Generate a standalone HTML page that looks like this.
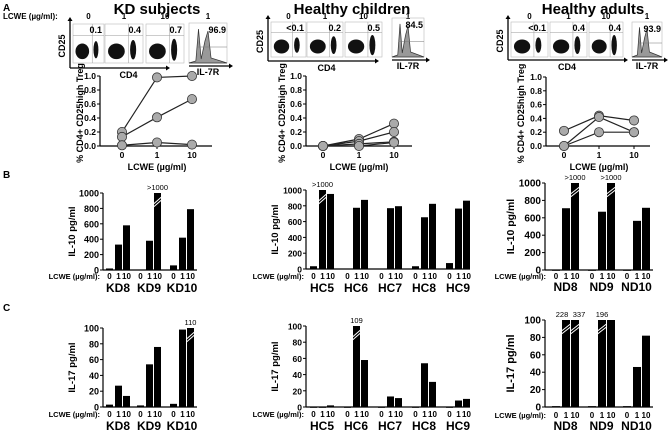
<!DOCTYPE html>
<html><head><meta charset="utf-8">
<style>
html,body{margin:0;padding:0;background:#fff;}
svg{display:block;font-family:"Liberation Sans",Arial,sans-serif;}
</style></head>
<body>
<svg id="fig" width="669" height="433" viewBox="0 0 669 433" xmlns="http://www.w3.org/2000/svg"></svg>
<script>
// ---- Panel A line-plot data (% CD4+ CD25high Treg) ----
const doseLabels = ['0','1','10'];
const treg_kd = [[0.20,0.98,1.00],[0.13,0.41,0.67],[0.01,0.05,0.02]];
const treg_hc = [[0,0.10,0.32],[0,0.07,0.20],[0,0.03,0.06],[0,0.00,0.05]];
const treg_nd = [[0.22,0.44,0.37],[0,0.42,0.20],[0,0.20,0.20]];
const tregTicks = [0,0.2,0.4,0.6,0.8,1.0];
// flow percentages
const flow_kd = ['0.1','0.4','0.7','96.9'];
const flow_hc = ['<0.1','0.2','0.5','84.5'];
const flow_nd = ['<0.1','0.4','0.4','93.9'];
// ---- Panel B IL-10 ----
const names_kd = ['KD8','KD9','KD10'];
const names_hc = ['HC5','HC6','HC7','HC8','HC9'];
const names_nd = ['ND8','ND9','ND10'];
const il10_kd = [[20,330,580],[5,380,1001],[60,420,790]];
const il10_kd_over = [['','',''],['','','>1000'],['','','']];
const il10_hc = [[35,1001,950],[5,775,875],[5,770,795],[35,655,825],[75,765,865]];
const il10_hc_over = [['','>1000',''],['','',''],['','',''],['','',''],['','','']];
const il10_nd = [[0,710,1001],[0,670,1001],[0,565,715]];
const il10_nd_over = [['','','>1000'],['','','>1000'],['','','']];
const il10Ticks = [0,200,400,600,800,1000];
// ---- Panel C IL-17 ----
const il17_kd = [[3,27,14],[2,54,76],[4,98,110]];
const il17_kd_over = [['','',''],['','',''],['','','110']];
const il17_hc = [[0,0,2],[0,109,58],[0,13,11],[0,54,31],[0,8,10]];
const il17_hc_over = [['','',''],['','109',''],['','',''],['','',''],['','','']];
const il17_nd = [[1,228,337],[1,196,100],[1,46,82]];
const il17_nd_over = [['','228','337'],['','196',''],['','','']];
const il17Ticks = [0,20,40,60,80,100];

const svg = document.getElementById('fig');
const NS = 'http://www.w3.org/2000/svg';
function el(tag, attrs, parent){
  const e = document.createElementNS(NS, tag);
  for (const k in attrs) e.setAttribute(k, attrs[k]);
  (parent||svg).appendChild(e);
  return e;
}
function txt(s, x, y, size, opts, parent){
  opts = opts||{};
  const t = el('text', {x:x, y:y, 'font-size':size, 'font-weight':opts.w||'bold', 'text-anchor':opts.a||'middle', fill:'#000'}, parent);
  if (opts.rot) t.setAttribute('transform', 'rotate(-90 '+x+' '+y+')');
  t.textContent = s;
  return t;
}
function line(x1,y1,x2,y2,w,parent){ return el('line',{x1:x1,y1:y1,x2:x2,y2:y2,stroke:'#000','stroke-width':w||1.3},parent); }

let t;
t = txt('A', 3, 11, 10, {a:'start'});  
t = txt('B', 3, 178, 10, {a:'start'});  
t = txt('C', 3, 311, 10, {a:'start'});  
t = txt('LCWE (\u00b5g/ml):', 3, 19, 8, {a:'start'});  

// ---------- Flow panels ----------
function flowPanel(name, title, titleX, axX, axY, boxes, arrowEnd, hist, pct){
  const g = el('g', {});
  
  
  const tt = txt(title, titleX, 14, 15, {}, g);
  
  
  const labs = ['0','1','10'];
  boxes.forEach((bx, i) => {
    const [x0, x1, y0, y1] = bx;
    txt(labs[i], (x0+x1)/2, 19, 8, {}, g);
    el('rect', {x:x0, y:y0, width:x1-x0, height:y1-y0, fill:'none', stroke:'#bbb', 'stroke-width':0.6}, g);
    const gx = x0 + (x1-x0)*0.62;
    line(gx, y0, gx, y1, 0.5, g).setAttribute('stroke', '#999');
    line(x0, y0+(y1-y0)*0.3, x1, y0+(y1-y0)*0.3, 0.5, g).setAttribute('stroke', '#999');
    const w = x1-x0, h = y1-y0;
    el('ellipse', {cx:x0+w*0.3, cy:y0+h*0.7, rx:w*0.22, ry:h*0.2, fill:'#111'}, g);
    el('ellipse', {cx:x0+w*0.74, cy:y0+h*0.66, rx:w*0.08, ry:h*0.22 + i*1.2, fill:'#111'}, g);
    txt(pct[i], x1-2, y0+9, 9, {a:'end'}, g);
  });
  line(axX, axY, arrowEnd, axY, 1.3, g);
  line(axX, axY, axX, boxes[0][2]-3, 1.3, g);
  el('polygon', {points:(arrowEnd+4)+','+axY+' '+arrowEnd+','+(axY-2.5)+' '+arrowEnd+','+(axY+2.5), fill:'#000'}, g);
  el('polygon', {points:axX+','+(boxes[0][2]-7)+' '+(axX-2.5)+','+(boxes[0][2]-3)+' '+(axX+2.5)+','+(boxes[0][2]-3), fill:'#000'}, g);
  txt('CD25', axX-5, (axY+boxes[0][2])/2, 9, {rot:true}, g);
  txt('CD4', (boxes[0][0]+boxes[2][1])/2, axY+10, 9, {}, g);
  const [hx0, hx1, hy0, hy1] = hist;
  const hw = hx1-hx0, hh = hy1-hy0;
  txt('1', (hx0+hx1)/2, 19, 8, {}, g);
  el('rect', {x:hx0, y:hy0, width:hw, height:hh, fill:'none', stroke:'#bbb', 'stroke-width':0.6}, g);
  const p = 'M'+hx0+','+hy1+' L'+(hx0+hw*0.18)+','+(hy1-2)+' L'+(hx0+hw*0.25)+','+(hy0+hh*0.15)+' L'+(hx0+hw*0.32)+','+(hy1-4)+' L'+(hx0+hw*0.42)+','+(hy0+hh*0.45)+' L'+(hx0+hw*0.5)+','+(hy0+hh*0.2)+' L'+(hx0+hw*0.58)+','+(hy1-5)+' L'+hx1+','+hy1+' Z';
  el('path', {d:p, fill:'#999', stroke:'#333', 'stroke-width':0.7}, g);
  line(hx0+hw*0.2, hy0+hh*0.6, hx1, hy0+hh*0.6, 0.5, g).setAttribute('stroke', '#777');
  txt(pct[3], hx1-1, hy0+10, 9, {a:'end'}, g);
  line(hx0, hy1+3, hx1+2, hy1+3, 1.3, g);
  el('polygon', {points:(hx1+6)+','+(hy1+3)+' '+(hx1+2)+','+(hy1+0.5)+' '+(hx1+2)+','+(hy1+5.5), fill:'#000'}, g);
  txt('IL-7R', (hx0+hx1)/2, hy1+12, 9, {}, g);
}
flowPanel('kd', 'KD subjects', 157, 70, 68, [[73,104,24,63],[105,143,24,63],[146,184,24,63]], 166, [189,227,23,63], flow_kd);
flowPanel('hc', 'Healthy children', 352, 268, 61, [[271,306,22,57],[307,343,22,57],[345,382,22,57]], 375, [392,424,18,57], flow_hc);
flowPanel('nd', 'Healthy adults', 593, 508, 60, [[511,548,22,57],[550,587,22,57],[589,623,22,57]], 624, [632,662,22,57], flow_nd);

// ---------- Line plots ----------
function linePlot(name, axX, xs, xEnd, yZero, yOne, series, titleX){
  const g = el('g', {});
  
  
  const yS = v => yZero - v*(yZero-yOne);
  line(axX, yZero, axX, yOne, 1.2, g);
  line(axX, yZero, xEnd, yZero, 1.2, g);
  tregTicks.forEach(v => {
    line(axX-3, yS(v), axX, yS(v), 1, g);
    txt(v.toFixed(1), axX-4, yS(v)+3, 8.5, {a:'end'}, g);
  });
  xs.forEach((x, i) => {
    line(x, yZero, x, yZero+3, 1, g);
    txt(doseLabels[i], x, yZero+12, 8.5, {}, g);
  });
  txt('LCWE (\u00b5g/ml)', xs[1], yZero+24, 9, {}, g);
  txt('% CD4+ CD25high Treg', titleX, (yZero+yOne)/2+2, 9, {rot:true}, g);
  series.forEach((s, si) => {
    const pts = s.map((v, i) => xs[i]+','+yS(v)).join(' ');
    const pl = el('polyline', {points:pts, fill:'none', stroke:'#222', 'stroke-width':1.2}, g);
    
    
    s.forEach((v, i) => {
      const c = el('circle', {cx:xs[i], cy:yS(v), r:4.6, fill:'#aaa', stroke:'#333', 'stroke-width':0.8}, g);
      
      
    });
  });
}
linePlot('kd', 100, [122,157,192], 212, 146, 76, treg_kd, 83);
linePlot('hc', 306, [323,359,394], 412, 146, 76, treg_hc, 285);
linePlot('nd', 546, [564,599,634], 650, 146, 77, treg_nd, 524);

// ---------- Bar charts ----------
function barChart(name, yTitle, axX, xEnd, yZero, yTop, maxV, ticks, starts, offs, bw, values, over, names, labY, nameY, tickSize, titleSize){
  const g = el('g', {});
  
  
  const yS = v => yZero - Math.min(v, maxV)/maxV*(yZero-yTop);
  line(axX, yZero, axX, yTop, 1.2, g);
  line(axX, yZero, xEnd, yZero, 1.2, g);
  ticks.forEach(v => {
    line(axX-3, yS(v), axX, yS(v), 1, g);
    txt(String(v), axX-4, yS(v)+3.5, tickSize, {a:'end'}, g);
  });
  txt(yTitle, axX-28 - (tickSize>9?3:0), (yZero+yTop)/2, titleSize, {rot:true}, g);
  txt('LCWE (\u00b5g/ml):', starts[0]-6, labY, 7.5, {a:'end'}, g);
  values.forEach((grp, gi) => {
    grp.forEach((v, bi) => {
      const x = starts[gi] + offs[bi];
      const y = yS(v);
      const r = el('rect', {x:x, y:y, width:bw, height:Math.max(yZero-y, 0.8), fill:'#000'}, g);
      
      
      if (v > maxV) {
        const by = yTop + 9;
        line(x-0.5, by+2, x+bw+0.5, by-5, 1, g).setAttribute('stroke', '#fff');
        line(x-0.5, by+5, x+bw+0.5, by-2, 1, g).setAttribute('stroke', '#fff');
      }
      const o = over[gi][bi];
      if (o) {
        let shift = 0;
        if (bi > 0 && over[gi][bi-1]) shift = 4;
        if (bi < 2 && over[gi][bi+1]) shift = -4;
        txt(o, x + bw/2 + shift, yTop-3, 7.5, {w:'normal'}, g);
      }
      txt(doseLabels[bi], x + bw/2, labY, 8, {}, g);
    });
    const mid = starts[gi] + (offs[0] + offs[2] + bw)/2;
    txt(names[gi], mid, nameY, 12, {}, g);
  });
}
barChart('kd-il10-chart', 'IL-10 pg/ml', 103, 197, 270, 193, 1000, il10Ticks, [106,137,170], [0,9,17], 7, il10_kd, il10_kd_over, names_kd, 279, 292, 9, 9.5);
barChart('hc-il10-chart', 'IL-10 pg/ml', 306, 470, 269, 190, 1000, il10Ticks, [310,344,378,412,446], [0,9,17], 7, il10_hc, il10_hc_over, names_hc, 279, 292, 8.5, 9.5);
barChart('nd-il10-chart', 'IL-10 pg/ml', 545, 653, 270, 183, 1000, il10Ticks, [552,588,623], [0,10,19], 8, il10_nd, il10_nd_over, names_nd, 279, 291, 10, 10.5);
barChart('kd-il17-chart', 'IL-17 pg/ml', 103, 197, 407, 328, 100, il17Ticks, [106,137,170], [0,9,17], 7, il17_kd, il17_kd_over, names_kd, 417, 430, 9, 9.5);
barChart('hc-il17-chart', 'IL-17 pg/ml', 306, 470, 407, 326, 100, il17Ticks, [310,344,378,412,446], [0,9,17], 7, il17_hc, il17_hc_over, names_hc, 417, 430, 8.5, 9.5);
barChart('nd-il17-chart', 'IL-17 pg/ml', 545, 653, 407, 320, 100, il17Ticks, [552,588,623], [0,10,19], 8, il17_nd, il17_nd_over, names_nd, 418, 430, 10, 11);
</script>
</body></html>
